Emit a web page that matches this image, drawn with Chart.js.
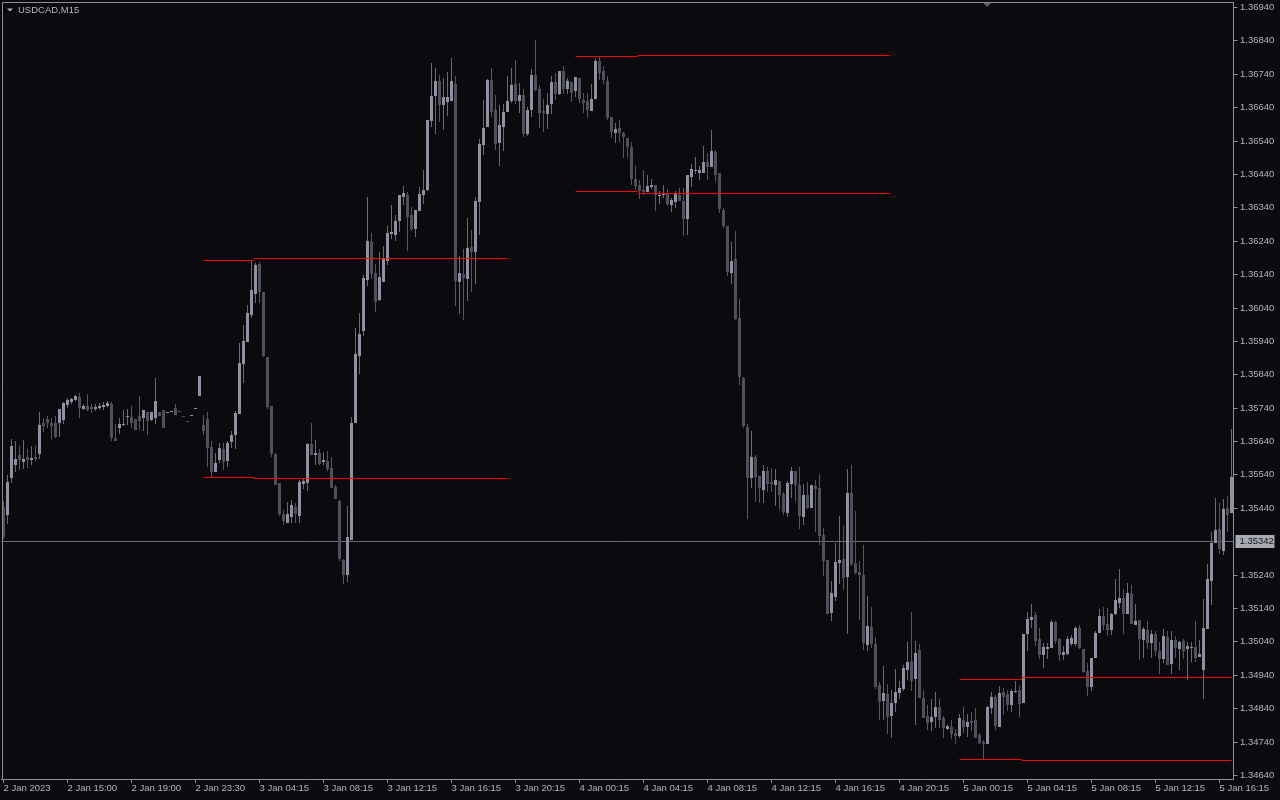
<!DOCTYPE html>
<html>
<head>
<meta charset="utf-8">
<script src="https://cdn.jsdelivr.net/npm/chart.js@4.4.1/dist/chart.umd.min.js"></script>
<style>
html,body{margin:0;padding:0;background:#0a0a0f;}
canvas{display:block;}
</style>
</head>
<body>
<canvas id="c" width="1280" height="800"></canvas>
<script>
// ---------- DATA ----------
const symbolTitle = 'USDCAD,M15';

const opens = [
1.35443,1.35419,1.35530,1.35569,1.35599,1.35578,1.35593,1.35584,1.35593,1.35602,
1.35695,1.35707,1.35695,1.35695,1.35695,1.35704,1.35749,1.35758,1.35764,1.35773,
1.35737,1.35746,1.35743,1.35737,1.35740,1.35743,1.35746,1.35752,1.35650,1.35680,
1.35689,1.35713,1.35713,1.35707,1.35716,1.35710,1.35728,1.35704,1.35710,1.35728,
1.35734,1.35725,1.35728,1.35740,1.35731,1.35716,1.35701,1.35716,1.35737,1.35776,
1.35689,1.35707,1.35623,1.35548,1.35584,1.35617,1.35581,1.35638,1.35659,1.35722,
1.35872,1.35938,1.36019,1.36082,1.36169,1.36085,1.35893,1.35746,1.35602,1.35515,
1.35422,1.35395,1.35413,1.35443,1.35416,1.35512,1.35515,1.35632,1.35599,1.35605,
1.35578,1.35581,1.35560,1.35503,1.35461,1.35284,1.35239,1.35344,1.35695,1.35896,
1.35971,1.36121,1.36235,1.36142,1.36064,1.36115,1.36178,1.36259,1.36256,1.36298,
1.36370,1.36376,1.36316,1.36274,1.36328,1.36376,1.36391,1.36598,1.36673,1.36718,
1.36646,1.36655,1.36658,1.36709,1.36115,1.36139,1.36124,1.36220,1.36205,1.36355,
1.36526,1.36580,1.36721,1.36631,1.36532,1.36580,1.36625,1.36658,1.36709,1.36658,
1.36676,1.36559,1.36631,1.36736,1.36694,1.36628,1.36619,1.36649,1.36715,1.36679,
1.36748,1.36694,1.36715,1.36688,1.36727,1.36661,1.36658,1.36628,1.36664,1.36778,
1.36748,1.36718,1.36610,1.36562,1.36577,1.36562,1.36547,1.36520,1.36424,1.36406,
1.36391,1.36385,1.36400,1.36406,1.36373,1.36376,1.36379,1.36346,1.36355,1.36376,
1.36358,1.36304,1.36430,1.36448,1.36442,1.36442,1.36475,1.36460,1.36505,1.36442,
1.36331,1.36283,1.36142,1.36184,1.36010,1.35830,1.35683,1.35530,1.35593,1.35536,
1.35494,1.35551,1.35518,1.35509,1.35521,1.35482,1.35425,1.35512,1.35551,1.35509,
1.35413,1.35479,1.35440,1.35506,1.35500,1.35359,1.35284,1.35125,1.35173,1.35275,
1.35287,1.35233,1.35485,1.35275,1.35248,1.35239,1.35029,1.35083,1.35032,1.34909,
1.34861,1.34882,1.34816,1.34855,1.34885,1.34897,1.34954,1.34981,1.34927,1.35014,
1.34870,1.34816,1.34798,1.34813,1.34843,1.34810,1.34777,1.34783,1.34765,1.34756,
1.34804,1.34783,1.34801,1.34804,1.34759,1.34738,1.34732,1.34840,1.34873,1.34783,
1.34888,1.34882,1.34849,1.34888,1.34894,1.34855,1.35062,1.35104,1.35119,1.35047,
1.34999,1.35017,1.35020,1.35098,1.35047,1.34999,1.35002,1.35032,1.35032,1.35080,
1.35017,1.34951,1.34903,1.34990,1.35065,1.35116,1.35092,1.35074,1.35122,1.35155,
1.35170,1.35122,1.35182,1.35089,1.35104,1.35044,1.35074,1.35035,1.35062,1.35011,
1.34987,1.35053,1.34972,1.35044,1.35017,1.35041,1.35017,1.35020,1.35023,1.34993,
1.34954,1.35077,1.35221,1.35335,1.35377,1.35311,1.35440,1.35425
];

const highs = [
1.35461,1.35539,1.35647,1.35641,1.35626,1.35644,1.35617,1.35626,1.35626,1.35728,
1.35710,1.35716,1.35710,1.35716,1.35737,1.35758,1.35770,1.35770,1.35779,1.35785,
1.35752,1.35782,1.35752,1.35752,1.35755,1.35758,1.35761,1.35758,1.35692,1.35710,
1.35734,1.35737,1.35746,1.35707,1.35776,1.35734,1.35728,1.35728,1.35830,1.35728,
1.35734,1.35728,1.35731,1.35752,1.35731,1.35716,1.35701,1.35719,1.35740,1.35836,
1.35719,1.35728,1.35641,1.35605,1.35635,1.35635,1.35641,1.35671,1.35731,1.35935,
1.35989,1.36049,1.36178,1.36172,1.36175,1.36085,1.35893,1.35746,1.35605,1.35515,
1.35434,1.35458,1.35464,1.35455,1.35524,1.35527,1.35635,1.35695,1.35644,1.35617,
1.35608,1.35611,1.35593,1.35509,1.35464,1.35287,1.35446,1.35713,1.35980,1.36025,
1.36136,1.36370,1.36262,1.36169,1.36205,1.36223,1.36283,1.36346,1.36316,1.36376,
1.36403,1.36385,1.36340,1.36331,1.36400,1.36451,1.36601,1.36772,1.36757,1.36736,
1.36727,1.36745,1.36787,1.36733,1.36193,1.36214,1.36307,1.36271,1.36370,1.36544,
1.36661,1.36724,1.36757,1.36676,1.36646,1.36649,1.36733,1.36757,1.36781,1.36712,
1.36694,1.36640,1.36754,1.36841,1.36706,1.36664,1.36682,1.36733,1.36742,1.36748,
1.36763,1.36727,1.36715,1.36730,1.36727,1.36682,1.36682,1.36709,1.36787,1.36793,
1.36763,1.36733,1.36610,1.36592,1.36601,1.36565,1.36547,1.36535,1.36463,1.36421,
1.36451,1.36436,1.36424,1.36406,1.36388,1.36406,1.36394,1.36367,1.36388,1.36397,
1.36397,1.36436,1.36469,1.36490,1.36463,1.36523,1.36502,1.36571,1.36511,1.36442,
1.36337,1.36283,1.36235,1.36268,1.36067,1.35833,1.35692,1.35671,1.35599,1.35536,
1.35569,1.35563,1.35560,1.35557,1.35521,1.35488,1.35521,1.35563,1.35551,1.35563,
1.35512,1.35518,1.35509,1.35524,1.35542,1.35380,1.35284,1.35221,1.35335,1.35416,
1.35386,1.35557,1.35569,1.35431,1.35281,1.35329,1.35176,1.35143,1.35053,1.34918,
1.34966,1.34912,1.34894,1.34957,1.34921,1.34969,1.35038,1.35128,1.35041,1.35032,
1.34894,1.34849,1.34867,1.34888,1.34867,1.34816,1.34789,1.34804,1.34777,1.34822,
1.34843,1.34822,1.34828,1.34840,1.34765,1.34744,1.34846,1.34888,1.34879,1.34906,
1.34900,1.34894,1.34897,1.34921,1.34906,1.35062,1.35128,1.35152,1.35128,1.35080,
1.35035,1.35035,1.35104,1.35101,1.35050,1.35026,1.35056,1.35059,1.35086,1.35089,
1.35017,1.34975,1.34990,1.35071,1.35137,1.35143,1.35140,1.35125,1.35227,1.35257,
1.35197,1.35215,1.35209,1.35152,1.35104,1.35083,1.35101,1.35074,1.35071,1.35038,
1.35077,1.35071,1.35071,1.35056,1.35041,1.35047,1.35038,1.35038,1.35101,1.35044,
1.35167,1.35272,1.35368,1.35470,1.35455,1.35467,1.35476,1.35677
];

const lows = [
1.35347,1.35392,1.35515,1.35548,1.35554,1.35557,1.35560,1.35569,1.35581,1.35587,
1.35668,1.35680,1.35647,1.35650,1.35653,1.35692,1.35740,1.35752,1.35761,1.35710,
1.35734,1.35731,1.35725,1.35731,1.35734,1.35734,1.35743,1.35641,1.35641,1.35662,
1.35686,1.35689,1.35680,1.35674,1.35674,1.35671,1.35659,1.35701,1.35692,1.35716,
1.35680,1.35725,1.35728,1.35719,1.35728,1.35713,1.35698,1.35716,1.35737,1.35776,
1.35659,1.35563,1.35530,1.35548,1.35575,1.35554,1.35563,1.35620,1.35617,1.35722,
1.35815,1.35938,1.36010,1.36055,1.36055,1.35893,1.35737,1.35593,1.35509,1.35416,
1.35389,1.35395,1.35395,1.35395,1.35395,1.35497,1.35491,1.35599,1.35569,1.35569,
1.35569,1.35551,1.35500,1.35467,1.35281,1.35212,1.35218,1.35344,1.35695,1.35842,
1.35956,1.36103,1.36124,1.36028,1.36061,1.36115,1.36166,1.36244,1.36238,1.36265,
1.36346,1.36208,1.36268,1.36250,1.36328,1.36349,1.36388,1.36580,1.36559,1.36595,
1.36571,1.36613,1.36658,1.36046,1.36022,1.36004,1.36061,1.36085,1.36109,1.36256,
1.36496,1.36580,1.36610,1.36511,1.36463,1.36508,1.36625,1.36652,1.36649,1.36622,
1.36550,1.36553,1.36610,1.36688,1.36577,1.36565,1.36574,1.36619,1.36661,1.36676,
1.36679,1.36679,1.36655,1.36670,1.36652,1.36622,1.36607,1.36628,1.36664,1.36721,
1.36709,1.36601,1.36547,1.36532,1.36535,1.36487,1.36487,1.36406,1.36391,1.36364,
1.36376,1.36385,1.36394,1.36328,1.36349,1.36367,1.36343,1.36325,1.36337,1.36358,
1.36253,1.36256,1.36400,1.36439,1.36421,1.36442,1.36421,1.36460,1.36415,1.36322,
1.36277,1.36133,1.36109,1.36004,1.35809,1.35680,1.35407,1.35500,1.35458,1.35455,
1.35455,1.35488,1.35488,1.35446,1.35434,1.35419,1.35413,1.35470,1.35458,1.35377,
1.35389,1.35437,1.35440,1.35368,1.35329,1.35236,1.35122,1.35101,1.35161,1.35212,
1.35194,1.35062,1.35266,1.35242,1.35104,1.35014,1.35011,1.35020,1.34897,1.34804,
1.34804,1.34762,1.34750,1.34828,1.34867,1.34891,1.34924,1.34891,1.34789,1.34870,
1.34810,1.34774,1.34771,1.34780,1.34780,1.34750,1.34774,1.34747,1.34732,1.34750,
1.34765,1.34753,1.34771,1.34750,1.34732,1.34684,1.34732,1.34822,1.34774,1.34783,
1.34819,1.34831,1.34828,1.34885,1.34813,1.34855,1.35011,1.35080,1.35026,1.34987,
1.34960,1.34987,1.35020,1.35032,1.34981,1.34984,1.34999,1.35026,1.35026,1.35017,
1.34945,1.34876,1.34891,1.34990,1.35065,1.35074,1.35056,1.35059,1.35119,1.35140,
1.35062,1.35122,1.35092,1.35089,1.34984,1.34990,1.35017,1.34990,1.34996,1.34942,
1.34975,1.34969,1.34942,1.34990,1.34954,1.34987,1.34924,1.34978,1.34978,1.34993,
1.34867,1.35077,1.35149,1.35335,1.35302,1.35299,1.35368,1.35425
];

const closes = [
1.35353,1.35518,1.35626,1.35587,1.35584,1.35587,1.35584,1.35590,1.35587,1.35689,
1.35686,1.35695,1.35686,1.35653,1.35737,1.35755,1.35764,1.35767,1.35776,1.35740,
1.35746,1.35734,1.35737,1.35743,1.35746,1.35749,1.35755,1.35650,1.35641,1.35692,
1.35692,1.35716,1.35695,1.35674,1.35701,1.35734,1.35701,1.35728,1.35761,1.35716,
1.35680,1.35728,1.35731,1.35719,1.35728,1.35713,1.35698,1.35719,1.35740,1.35836,
1.35671,1.35620,1.35548,1.35575,1.35620,1.35578,1.35635,1.35659,1.35725,1.35875,
1.35941,1.36025,1.36091,1.36166,1.36085,1.35896,1.35743,1.35602,1.35509,1.35422,
1.35401,1.35422,1.35449,1.35422,1.35518,1.35521,1.35632,1.35599,1.35605,1.35572,
1.35584,1.35557,1.35500,1.35467,1.35287,1.35239,1.35353,1.35695,1.35902,1.35962,
1.36127,1.36238,1.36139,1.36058,1.36130,1.36184,1.36262,1.36265,1.36298,1.36376,
1.36382,1.36310,1.36274,1.36331,1.36379,1.36391,1.36601,1.36673,1.36718,1.36646,
1.36670,1.36670,1.36718,1.36118,1.36142,1.36127,1.36217,1.36205,1.36358,1.36529,
1.36577,1.36721,1.36625,1.36529,1.36586,1.36625,1.36658,1.36706,1.36658,1.36676,
1.36559,1.36631,1.36736,1.36691,1.36622,1.36622,1.36646,1.36715,1.36679,1.36748,
1.36694,1.36718,1.36682,1.36730,1.36664,1.36652,1.36631,1.36664,1.36778,1.36742,
1.36721,1.36607,1.36565,1.36574,1.36562,1.36550,1.36520,1.36424,1.36403,1.36388,
1.36385,1.36403,1.36406,1.36376,1.36376,1.36379,1.36349,1.36361,1.36379,1.36358,
1.36304,1.36436,1.36454,1.36451,1.36451,1.36475,1.36460,1.36508,1.36436,1.36334,
1.36283,1.36145,1.36178,1.36007,1.35833,1.35686,1.35530,1.35593,1.35533,1.35500,
1.35551,1.35512,1.35512,1.35524,1.35479,1.35428,1.35515,1.35551,1.35509,1.35416,
1.35479,1.35440,1.35509,1.35497,1.35356,1.35281,1.35122,1.35185,1.35278,1.35284,
1.35230,1.35485,1.35272,1.35245,1.35239,1.35035,1.35086,1.35032,1.34903,1.34858,
1.34885,1.34813,1.34855,1.34888,1.34900,1.34960,1.34978,1.34921,1.35005,1.34870,
1.34810,1.34795,1.34813,1.34843,1.34804,1.34780,1.34786,1.34762,1.34756,1.34810,
1.34783,1.34798,1.34795,1.34750,1.34735,1.34732,1.34843,1.34873,1.34786,1.34885,
1.34873,1.34849,1.34891,1.34891,1.34852,1.35062,1.35107,1.35113,1.35041,1.34999,
1.35023,1.35023,1.35098,1.35041,1.34999,1.35008,1.35047,1.35050,1.35080,1.35020,
1.34948,1.34903,1.34990,1.35065,1.35116,1.35089,1.35074,1.35122,1.35164,1.35170,
1.35122,1.35185,1.35092,1.35101,1.35047,1.35077,1.35035,1.35062,1.35011,1.34987,
1.35056,1.34969,1.35044,1.35020,1.35038,1.35011,1.35026,1.35023,1.34990,1.35002,
1.35080,1.35227,1.35335,1.35374,1.35317,1.35437,1.35419,1.35533
];

// time axis labels, one every 16 bars (4 hours of M15 bars)
const timeLabels = [
'2 Jan 2023','2 Jan 15:00','2 Jan 19:00','2 Jan 23:30','3 Jan 04:15',
'3 Jan 08:15','3 Jan 12:15','3 Jan 16:15','3 Jan 20:15','4 Jan 00:15',
'4 Jan 04:15','4 Jan 08:15','4 Jan 12:15','4 Jan 16:15','4 Jan 20:15',
'5 Jan 00:15','5 Jan 04:15','5 Jan 08:15','5 Jan 12:15','5 Jan 16:15'
];
const barsPerLabel = 16;

// price axis tick labels
const priceTicks = [
1.36940,1.36840,1.36740,1.36640,1.36540,1.36440,1.36340,1.36240,1.36140,1.36040,
1.35940,1.35840,1.35740,1.35640,1.35540,1.35440,1.35240,1.35140,1.35040,1.34940,
1.34840,1.34740,1.34640
];
const priceMin = 1.34628;
const priceMax = 1.36955;

const currentPrice = 1.35342;

// horizontal level segments (bar index from / to, price)
const levelFrom  = [50, 62.5, 50, 62.5, 143, 158.5, 143, 158.5, 239, 254.5, 239, 254.5];
const levelTo    = [62.5, 126, 62.5, 126, 158.5, 221.5, 158.5, 221.5, 254.5, 307, 254.5, 307];
const levelPrice = [1.361816, 1.361876, 1.355317, 1.355287, 1.367925, 1.367955,
                    1.363882, 1.363822, 1.349267, 1.349327, 1.346872, 1.346842];

// ---------- STYLE ----------
const bgColor = '#0a0a0f';
const textColor = '#b2b6c2';
const frameColor = '#8e8e96';
const bullBody = '#9091a0';
const bearBody = '#505058';
const bullWick = '#6a6a74';
const bearWick = '#56565e';
const levelColor = '#ff0000';
const priceLineColor = '#6c6c72';
const fontFamily = '"Liberation Sans", Arial, sans-serif';

Chart.defaults.font.family = fontFamily;
Chart.defaults.font.size = 9.5;

const idx = opens.map((_, i) => i);
const bull = idx.map(i => closes[i] >= opens[i]);

const bodyData = idx.map(i => ({x: i, y: [opens[i], closes[i]]}));
const wickData = idx.map(i => ({x: i, y: [lows[i], highs[i]]}));

const levelSets = levelPrice.map((p, j) => ({
  type: 'line',
  data: [{x: levelFrom[j], y: p}, {x: levelTo[j], y: p}],
  borderColor: levelColor,
  borderWidth: 1,
  pointRadius: 0,
  tension: 0,
  order: 0
}));

const decor = {
  id: 'decor',
  beforeDraw(chart) {
    const {ctx, width, height} = chart;
    ctx.save();
    ctx.fillStyle = bgColor;
    ctx.fillRect(0, 0, width, height);
    ctx.restore();
  },
  beforeDatasetsDraw(chart) {
    // snap 1px horizontal level lines to pixel centres for a crisp look
    chart.data.datasets.forEach((ds, i) => {
      if (ds.type === 'line') {
        chart.getDatasetMeta(i).data.forEach(pt => { pt.y = Math.floor(pt.y) + 0.5; });
      }
    });
    const {ctx, chartArea: a, scales: {y}} = chart;
    const py = Math.round(y.getPixelForValue(currentPrice)) + 0.5;
    ctx.save();
    ctx.strokeStyle = priceLineColor;
    ctx.lineWidth = 1;
    ctx.beginPath();
    ctx.moveTo(a.left, py);
    ctx.lineTo(a.right, py);
    ctx.stroke();
    ctx.restore();
  },
  afterDraw(chart) {
    const {ctx, chartArea: a, scales: {y}} = chart;
    ctx.save();
    const fx = Math.round(a.left) + 0.5, fy = Math.round(a.top) + 0.5;
    ctx.strokeStyle = frameColor;
    ctx.lineWidth = 1;
    ctx.beginPath();
    ctx.moveTo(fx, a.bottom);
    ctx.lineTo(fx, fy);
    ctx.lineTo(a.right, fy);
    ctx.stroke();
    ctx.fillStyle = textColor;
    ctx.beginPath();
    ctx.moveTo(a.left + 5.5, 8.5);
    ctx.lineTo(a.left + 11.5, 8.5);
    ctx.lineTo(a.left + 8.5, 11.5);
    ctx.closePath();
    ctx.fill();
    ctx.font = '9.5px ' + fontFamily;
    ctx.textBaseline = 'middle';
    ctx.textAlign = 'left';
    ctx.fillText(symbolTitle, a.left + 16.5, 10.5);
    const mx = a.left + (a.right - a.left) * 0.8;
    ctx.fillStyle = '#5c5c66';
    ctx.beginPath();
    ctx.moveTo(mx - 4, a.top + 1);
    ctx.lineTo(mx + 4, a.top + 1);
    ctx.lineTo(mx, a.top + 5);
    ctx.closePath();
    ctx.fill();
    const py = Math.round(y.getPixelForValue(currentPrice));
    ctx.fillStyle = '#a8abb4';
    ctx.fillRect(a.right + 2, py - 6, 39, 13);
    ctx.fillStyle = '#12121a';
    ctx.fillText(currentPrice.toFixed(5), a.right + 6, py + 0.5);
    ctx.restore();
  }
};

new Chart(document.getElementById('c'), {
  type: 'bar',
  data: {
    datasets: [
      ...levelSets,
      {
        type: 'bar',
        data: bodyData,
        backgroundColor: idx.map(i => bull[i] ? bullBody : bearBody),
        borderWidth: 0,
        barThickness: 3,
        grouped: false,
        minBarLength: 1,
        inflateAmount: 0,
        order: 1
      },
      {
        type: 'bar',
        data: wickData,
        backgroundColor: idx.map(i => bull[i] ? bullWick : bearWick),
        borderWidth: 0,
        barThickness: 1,
        grouped: false,
        minBarLength: 1,
        inflateAmount: 0,
        order: 2
      }
    ]
  },
  options: {
    responsive: false,
    maintainAspectRatio: false,
    devicePixelRatio: 1,
    animation: false,
    events: [],
    layout: { padding: { left: 1.5, top: 2, right: 0, bottom: 0 } },
    plugins: { legend: { display: false }, tooltip: { enabled: false }, title: { display: false } },
    scales: {
      x: {
        type: 'linear',
        position: 'bottom',
        min: -0.5,
        max: opens.length - 0.5,
        offset: false,
        afterBuildTicks: s => { s.ticks = timeLabels.map((_, j) => ({ value: j * barsPerLabel })); },
        afterFit: s => { s.height = 21; s.paddingLeft = 0; s.paddingRight = 0; },
        ticks: {
          autoSkip: false, maxRotation: 0, minRotation: 0, align: 'start', padding: 0,
          color: textColor, font: { family: fontFamily, size: 9.5 },
          callback: (v, i) => timeLabels[i]
        },
        grid: { drawOnChartArea: false, drawTicks: true, tickLength: 4, color: frameColor, offset: false },
        border: { display: true, color: frameColor, width: 1 }
      },
      y: {
        type: 'linear',
        position: 'right',
        min: priceMin,
        max: priceMax,
        beginAtZero: false,
        alignToPixels: true,
        afterBuildTicks: s => { s.ticks = priceTicks.map(v => ({ value: v })); },
        afterFit: s => { s.width = 46.5; s.paddingTop = 0; s.paddingBottom = 0; },
        ticks: {
          padding: 2.5, color: textColor, font: { family: fontFamily, size: 9.5 },
          callback: v => Number(v).toFixed(5)
        },
        grid: { drawOnChartArea: false, drawTicks: true, tickLength: 4, color: frameColor },
        border: { display: true, color: frameColor, width: 1 }
      }
    }
  },
  plugins: [decor]
});
</script>
</body>
</html>
